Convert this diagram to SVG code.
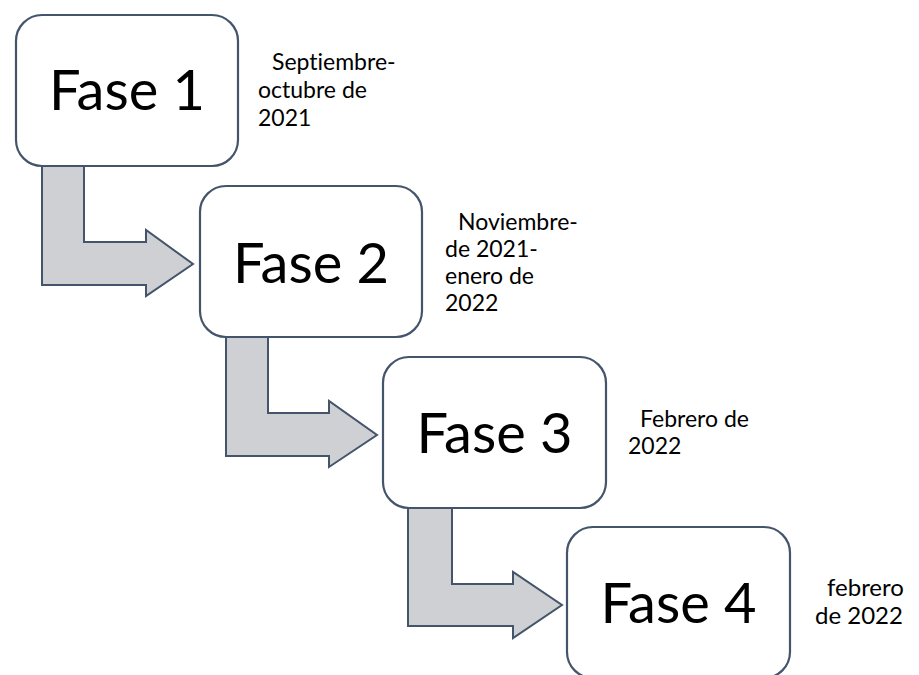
<svg xmlns="http://www.w3.org/2000/svg" width="919" height="675" viewBox="0 0 919 675">
<style>
.box{fill:#ffffff;stroke:#44546A;stroke-width:2.2}
.arr{fill:#CFD0D4;stroke:#44546A;stroke-width:2;stroke-linejoin:miter}
.big{font-family:Lato,"Liberation Sans",sans-serif;font-size:56px;fill:#000;text-anchor:middle}
.sm{font-family:Lato,"Liberation Sans",sans-serif;font-size:23px;fill:#000;font-variant-ligatures:none}
</style>
<rect width="919" height="675" fill="#ffffff"/>
<g id="connectors">
<path class="arr" d="M42,166 L42,285 L146,285 L146,296 L193,264 L146,230 L146,242 L84,242 L84,166 Z"/>
<path class="arr" d="M226,337 L226,456 L329,456 L329,467 L377,435 L329,401 L329,413 L268,413 L268,337 Z"/>
<path class="arr" d="M408,508 L408,626 L513,626 L513,638 L562,605 L513,572 L513,584 L452,584 L452,508 Z"/>
</g>
<g id="fase1">
<rect class="box" x="16" y="15" width="222" height="151" rx="26"/>
<text class="big" x="127" y="110">Fase 1</text>
</g>
<g id="fase2">
<rect class="box" x="200" y="186" width="222" height="151" rx="26"/>
<text class="big" x="311" y="283">Fase 2</text>
</g>
<g id="fase3">
<rect class="box" x="383" y="357" width="223" height="151" rx="26"/>
<text class="big" x="494.5" y="453">Fase 3</text>
</g>
<g id="fase4">
<rect class="box" x="567" y="527" width="223" height="151" rx="26"/>
<text class="big" x="678.5" y="623">Fase 4</text>
</g>
<g id="date1">
<text class="sm"><tspan x="272" y="70">Septiembre-</tspan><tspan x="258" y="98">octubre de</tspan><tspan x="258" y="126">2021</tspan></text>
</g>
<g id="date2">
<text class="sm"><tspan x="458" y="230">Noviembre-</tspan><tspan x="445" y="257">de 2021-</tspan><tspan x="445" y="284">enero de</tspan><tspan x="445" y="311">2022</tspan></text>
</g>
<g id="date3">
<text class="sm"><tspan x="640" y="427">Febrero de</tspan><tspan x="628" y="454">2022</tspan></text>
</g>
<g id="date4">
<text class="sm" style="font-size:24px"><tspan x="827" y="596">febrero</tspan><tspan x="815" y="624">de 2022</tspan></text>
</g>
</svg>
